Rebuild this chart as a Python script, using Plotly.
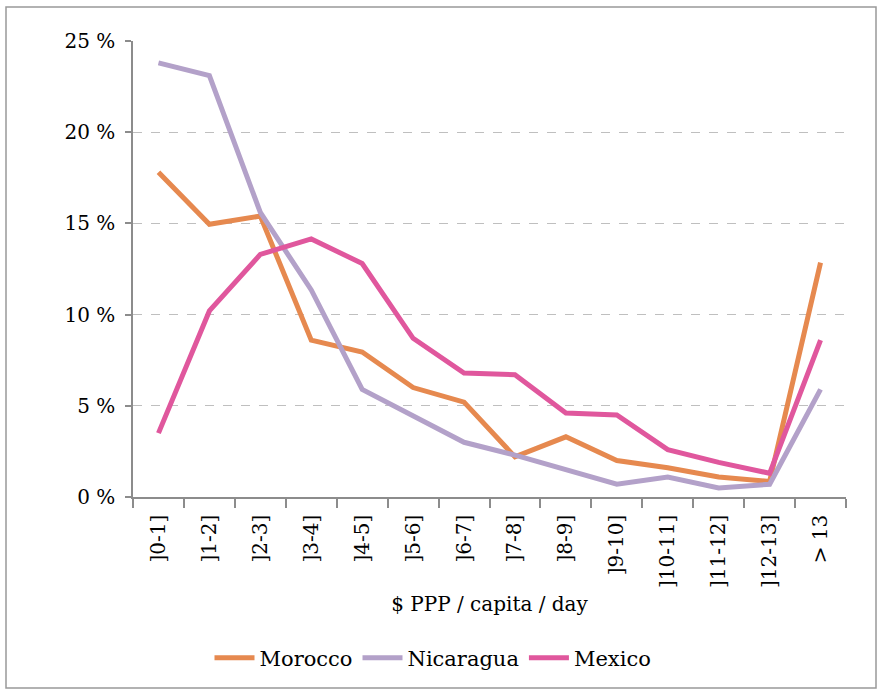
import plotly.graph_objects as go

categories = ["]0-1]", "]1-2]", "]2-3]", "]3-4]", "]4-5]", "]5-6]", "]6-7]",
              "]7-8]", "]8-9]", "]9-10]", "]10-11]", "]11-12]", "]12-13]", "> 13"]
morocco = [17.8, 14.95, 15.4, 8.6, 7.95, 6.0, 5.2, 2.2, 3.3, 2.0, 1.6, 1.1, 0.85, 12.85]
nicaragua = [23.8, 23.1, 15.6, 11.35, 5.9, 4.45, 3.0, 2.3, 1.5, 0.7, 1.1, 0.5, 0.7, 5.9]
mexico = [3.5, 10.2, 13.3, 14.15, 12.8, 8.7, 6.8, 6.7, 4.6, 4.5, 2.6, 1.9, 1.3, 8.6]
y_ticks = [0, 5, 10, 15, 20, 25]
y_tick_text = ["0 %", "5 %", "10 %", "15 %", "20 %", "25 %"]

FONT = "DejaVu Serif"
W, H = 879, 690
L, R, T, B = 133, 33, 41, 193

fig = go.Figure()
for name, vals, col in [("Morocco", morocco, "#E6894F"),
                        ("Nicaragua", nicaragua, "#B3A1C9"),
                        ("Mexico", mexico, "#E0579D")]:
    fig.add_trace(go.Scatter(x=categories, y=vals, name=name, mode="lines",
                             line=dict(color=col, width=5)))

pw, ph = W - L - R, H - T - B
fig.add_shape(type="rect", xref="paper", yref="paper",
              x0=(6 - L) / pw, x1=(876 - L) / pw,
              y0=(H - B - 688) / ph, y1=(H - B - 7) / ph,
              line=dict(color="#999999", width=1.5), layer="below")

fig.update_layout(
    width=W, height=H,
    margin=dict(l=L, r=R, t=T, b=B, autoexpand=False),
    paper_bgcolor="white", plot_bgcolor="white",
    font=dict(family=FONT, size=20, color="black"),
    showlegend=True,
    legend=dict(orientation="h", x=(433 - L) / pw, xanchor="center",
                yref="container", y=1 - 658 / H, yanchor="middle",
                font=dict(size=21), itemwidth=40, tracegroupgap=0),
    xaxis=dict(type="category", range=[-0.5, 13.5], tickson="boundaries",
               ticks="outside", ticklen=9, tickcolor="#8c8c8c", tickwidth=1.5,
               showline=True, linecolor="#8c8c8c", linewidth=1.5,
               showgrid=False, tickangle=-90, tickfont=dict(size=20),
               ticklabelstandoff=8, automargin=False,
               title=dict(text="$ PPP / capita / day", font=dict(size=20), standoff=10)),
    yaxis=dict(range=[0, 25], tickvals=y_ticks, ticktext=y_tick_text,
               ticks="outside", ticklen=6, tickcolor="#8c8c8c", tickwidth=1.5,
               showline=True, linecolor="#8c8c8c", linewidth=1.5,
               showgrid=True, gridcolor="#bfbfbf", griddash="dash", gridwidth=1,
               zeroline=False, tickfont=dict(size=20), ticklabelstandoff=6,
               automargin=False),
)

fig.write_html("out.html", config={"displayModeBar": False},
               post_script="document.body.style.margin='0';document.body.style.overflow='hidden';")
